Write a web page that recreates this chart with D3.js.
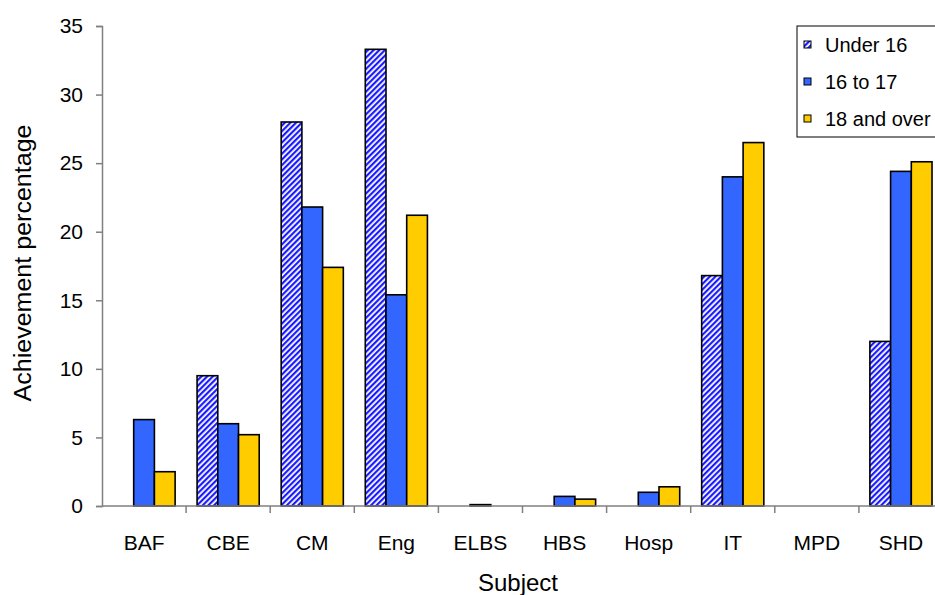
<!DOCTYPE html>
<html>
<head>
<meta charset="utf-8">
<script src="https://cdn.jsdelivr.net/npm/d3@7"></script>
<style>
  body { margin: 0; background: #fff; }
  text { font-family: "Liberation Sans", Arial, sans-serif; fill: #000; }
</style>
</head>
<body>
<div id="chart"></div>
<script>
// data
var subjects = ["BAF", "CBE", "CM", "Eng", "ELBS", "HBS", "Hosp", "IT", "MPD", "SHD"];
var under16 = [0, 9.5, 28.0, 33.3, 0, 0, 0, 16.8, 0, 12.0];
var age16to17 = [6.3, 6.0, 21.8, 15.4, 0.1, 0.7, 1.0, 24.0, 0, 24.4];
var age18over = [2.5, 5.2, 17.4, 21.2, 0, 0.5, 1.4, 26.5, 0, 25.1];
var seriesNames = ["Under 16", "16 to 17", "18 and over"];
var yTicks = [0, 5, 10, 15, 20, 25, 30, 35];

var width = 935, height = 595;
var margin = { left: 102, top: 26, right: -8, bottom: 89 };

var svg = d3.select("#chart").append("svg")
  .attr("width", width)
  .attr("height", height);

// hatched fill for the first series
var defs = svg.append("defs");
var pat = defs.append("pattern")
  .attr("id", "hatch")
  .attr("patternUnits", "userSpaceOnUse")
  .attr("width", 4)
  .attr("height", 4)
  .attr("patternTransform", "rotate(45)");
pat.append("rect").attr("width", 4).attr("height", 4).attr("fill", "#ffffff");
pat.append("rect").attr("width", 2.2).attr("height", 4).attr("fill", "#1a1aff");

var fills = ["url(#hatch)", "#3366ff", "#ffcc00"];

var x0 = d3.scaleBand()
  .domain(subjects)
  .range([margin.left, width - margin.right])
  .paddingInner(0)
  .paddingOuter(0);

var x1 = d3.scaleBand()
  .domain(d3.range(3))
  .range([0, x0.bandwidth()])
  .paddingOuter(0.53)
  .paddingInner(0);

var y = d3.scaleLinear()
  .domain([0, 35])
  .range([height - margin.bottom, margin.top]);

var rows = subjects.map(function(s, i) {
  return { subject: s, values: [under16[i], age16to17[i], age18over[i]] };
});

// bars
var groups = svg.append("g").selectAll("g")
  .data(rows)
  .enter().append("g")
  .attr("transform", function(d) { return "translate(" + x0(d.subject) + ",0)"; });

groups.selectAll("rect")
  .data(function(d) { return d.values.map(function(v, k) { return { k: k, v: v }; }); })
  .enter().append("rect")
  .filter(function(d) { return d.v > 0; })
  .attr("x", function(d) { return x1(d.k); })
  .attr("y", function(d) { return y(d.v); })
  .attr("width", x1.bandwidth())
  .attr("height", function(d) { return y(0) - y(d.v); })
  .attr("fill", function(d) { return fills[d.k]; })
  .attr("stroke", "#000")
  .attr("stroke-width", 1.6);

// y axis
var yAxis = svg.append("g")
  .attr("transform", "translate(" + margin.left + ",0)")
  .call(d3.axisLeft(y).tickValues(yTicks).tickSize(6).tickPadding(13));
yAxis.select(".domain").attr("stroke", "#808080").attr("stroke-width", 1.5);
yAxis.selectAll(".tick line").attr("stroke", "#808080").attr("stroke-width", 1.5);
yAxis.selectAll("text").style("font-size", "21px");

// x axis: ticks at category boundaries
var xAxisG = svg.append("g")
  .attr("transform", "translate(0," + y(0) + ")");
xAxisG.append("line")
  .attr("x1", margin.left).attr("x2", width)
  .attr("stroke", "#808080").attr("stroke-width", 1.5);
xAxisG.selectAll(".bound")
  .data(subjects.slice(1))
  .enter().append("line")
  .attr("class", "bound")
  .attr("x1", function(d) { return x0(d); })
  .attr("x2", function(d) { return x0(d); })
  .attr("y1", 0).attr("y2", 7)
  .attr("stroke", "#808080").attr("stroke-width", 1.5);
xAxisG.selectAll(".lab")
  .data(subjects)
  .enter().append("text")
  .attr("class", "lab")
  .attr("x", function(d) { return x0(d) + x0.bandwidth() / 2; })
  .attr("y", 44)
  .attr("text-anchor", "middle")
  .style("font-size", "21px")
  .text(function(d) { return d; });

// axis titles
svg.append("text")
  .attr("transform", "translate(31,263) rotate(-90)")
  .attr("text-anchor", "middle")
  .style("font-size", "23px")
  .attr("textLength", 277)
  .attr("lengthAdjust", "spacingAndGlyphs")
  .text("Achievement percentage");

svg.append("text")
  .attr("x", 518)
  .attr("y", 591)
  .attr("text-anchor", "middle")
  .style("font-size", "24px")
  .text("Subject");

// legend
var legend = svg.append("g").attr("transform", "translate(797,26)");
legend.append("rect")
  .attr("width", 150).attr("height", 111)
  .attr("fill", "#fff").attr("stroke", "#000").attr("stroke-width", 1);
var items = legend.selectAll(".item")
  .data(seriesNames)
  .enter().append("g")
  .attr("class", "item")
  .attr("transform", function(d, i) { return "translate(7," + (19 + i * 37) + ")"; });
items.append("rect")
  .attr("x", 0).attr("y", -4)
  .attr("width", 7).attr("height", 7)
  .attr("fill", function(d, i) { return fills[i]; })
  .attr("stroke", "#000").attr("stroke-width", 1);
items.append("text")
  .attr("x", 21).attr("y", 0)
  .attr("dy", "0.35em")
  .style("font-size", "20px")
  .text(function(d) { return d; });
</script>
</body>
</html>
